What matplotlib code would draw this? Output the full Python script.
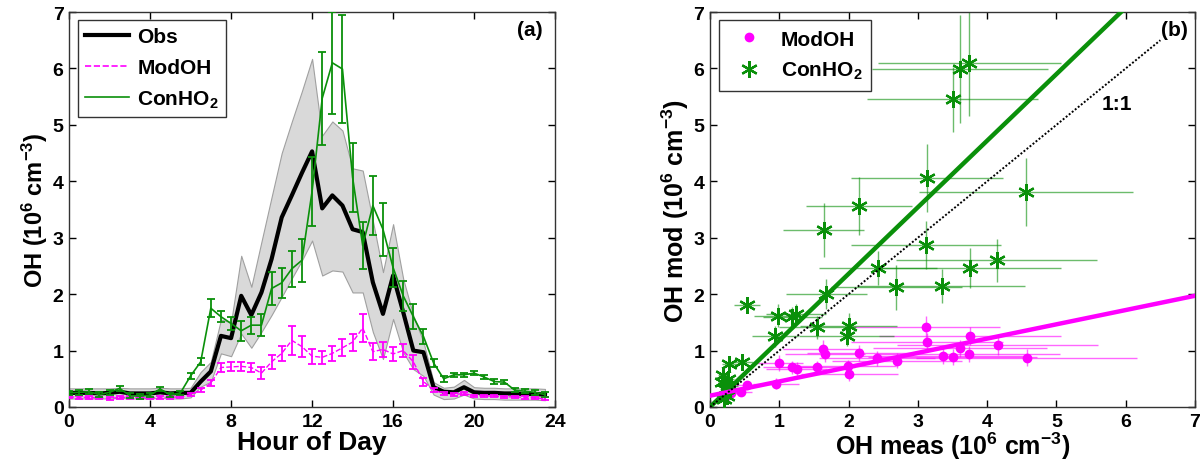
import numpy as np
import matplotlib
matplotlib.use('Agg')
import matplotlib.pyplot as plt
from matplotlib.lines import Line2D

plt.rcParams['font.family'] = ['Liberation Sans', 'DejaVu Sans']
plt.rcParams['font.weight'] = 'bold'
plt.rcParams['mathtext.fontset'] = 'custom'
plt.rcParams['mathtext.rm'] = 'Liberation Sans:bold'
plt.rcParams['mathtext.it'] = 'Liberation Sans:bold'
plt.rcParams['mathtext.bf'] = 'Liberation Sans:bold'

GREEN = '#0a900a'
MAGENTA = '#ff00ff'

# (a) diurnal profiles, half-hour bins
hours = [0.0, 0.5, 1.0, 1.5, 2.0, 2.5, 3.0, 3.5, 4.0, 4.5, 5.0, 5.5,
         6.0, 6.5, 7.0, 7.5, 8.0, 8.5, 9.0, 9.5, 10.0, 10.5, 11.0, 11.5,
         12.0, 12.5, 13.0, 13.5, 14.0, 14.5, 15.0, 15.5, 16.0, 16.5, 17.0, 17.5,
         18.0, 18.5, 19.0, 19.5, 20.0, 20.5, 21.0, 21.5, 22.0, 22.5, 23.0, 23.5]

obs = [0.25, 0.25, 0.25, 0.24, 0.25, 0.27, 0.24, 0.24, 0.24, 0.26, 0.24, 0.25,
       0.25, 0.45, 0.63, 1.26, 1.22, 1.97, 1.63, 2.03, 2.62, 3.36, 3.75, 4.15,
       4.53, 3.52, 3.75, 3.57, 3.15, 3.10, 2.21, 1.65, 2.33, 1.68, 1.00, 0.97,
       0.35, 0.27, 0.26, 0.35, 0.26, 0.25, 0.25, 0.24, 0.24, 0.23, 0.23, 0.22]

obs_hi = [0.33, 0.33, 0.33, 0.33, 0.33, 0.34, 0.33, 0.33, 0.33, 0.34, 0.33, 0.33,
          0.34, 0.62, 0.80, 1.55, 1.50, 2.68, 2.13, 2.93, 3.72, 4.50, 5.06, 5.60,
          6.17, 4.81, 5.06, 4.90, 4.23, 4.19, 3.30, 2.39, 3.24, 2.27, 1.62, 1.15,
          0.44, 0.34, 0.36, 0.48, 0.35, 0.34, 0.34, 0.33, 0.33, 0.33, 0.33, 0.32]

obs_lo = [0.15, 0.15, 0.15, 0.15, 0.15, 0.16, 0.15, 0.15, 0.15, 0.16, 0.15, 0.15,
          0.17, 0.36, 0.45, 0.95, 0.90, 1.30, 1.05, 1.33, 1.63, 1.95, 2.28, 2.60,
          2.95, 2.33, 2.42, 2.40, 2.03, 2.03, 1.33, 0.85, 1.56, 0.97, 0.67, 0.55,
          0.22, 0.14, 0.15, 0.22, 0.15, 0.14, 0.14, 0.13, 0.13, 0.13, 0.13, 0.12]

mod_oh = [0.18, 0.17, 0.17, 0.16, 0.15, 0.17, 0.17, 0.16, 0.16, 0.17, 0.17, 0.18,
          0.22, 0.30, 0.42, 0.70, 0.71, 0.72, 0.70, 0.60, 0.80, 0.95, 1.18, 1.07,
          0.90, 0.88, 0.95, 1.05, 1.15, 1.40, 0.98, 1.02, 0.94, 1.00, 0.80, 0.45,
          0.30, 0.24, 0.22, 0.24, 0.20, 0.20, 0.19, 0.18, 0.18, 0.17, 0.16, 0.15]

mod_oh_err = [0.02, 0.02, 0.02, 0.02, 0.02, 0.02, 0.02, 0.02, 0.02, 0.02, 0.02, 0.02,
              0.03, 0.04, 0.05, 0.08, 0.08, 0.08, 0.08, 0.10, 0.13, 0.13, 0.25, 0.18,
              0.13, 0.12, 0.13, 0.15, 0.15, 0.25, 0.15, 0.13, 0.12, 0.12, 0.12, 0.07,
              0.03, 0.02, 0.02, 0.02, 0.02, 0.02, 0.02, 0.02, 0.02, 0.02, 0.02, 0.02]

con_ho2 = [0.25, 0.26, 0.27, 0.22, 0.26, 0.33, 0.20, 0.19, 0.21, 0.32, 0.21, 0.25,
           0.55, 0.80, 1.75, 1.60, 1.48, 1.35, 1.45, 1.45, 2.10, 2.20, 2.45, 2.60,
           3.82, 5.47, 6.10, 5.99, 4.07, 2.86, 3.57, 3.15, 2.47, 1.97, 1.60, 1.25,
           0.78, 0.50, 0.57, 0.57, 0.60, 0.53, 0.45, 0.44, 0.30, 0.28, 0.26, 0.22]

con_ho2_err = [0.04, 0.04, 0.04, 0.04, 0.04, 0.04, 0.04, 0.04, 0.04, 0.04, 0.04, 0.04,
               0.05, 0.06, 0.16, 0.10, 0.12, 0.18, 0.15, 0.20, 0.30, 0.27, 0.32, 0.38,
               0.61, 0.82, 0.90, 0.95, 0.61, 0.41, 0.53, 0.47, 0.35, 0.27, 0.22, 0.13,
               0.07, 0.05, 0.04, 0.04, 0.04, 0.04, 0.04, 0.04, 0.04, 0.04, 0.04, 0.04]

# (b) modelled vs measured OH
con_x = [0.19, 0.26, 0.17, 0.30, 0.22, 0.24, 0.20, 0.27, 0.46, 0.53, 0.98, 1.19,
         1.24, 0.94, 1.55, 1.68, 2.00, 1.97, 1.64, 2.15, 3.13, 2.42, 3.12, 2.69,
         3.35, 3.61, 3.74, 3.50, 4.56, 4.14, 3.75]
con_y = [0.56, 0.50, 0.44, 0.38, 0.32, 0.20, 0.14, 0.76, 0.79, 1.81, 1.62, 1.59,
         1.65, 1.25, 1.41, 2.00, 1.44, 1.26, 3.14, 3.56, 4.06, 2.47, 2.87, 2.12,
         2.14, 5.99, 6.10, 5.45, 3.81, 2.60, 2.46]
con_xerr = [0.07, 0.09, 0.06, 0.10, 0.08, 0.08, 0.07, 0.10, 0.16, 0.19, 0.34, 0.42,
            0.43, 0.33, 0.55, 0.59, 0.70, 0.69, 0.58, 0.76, 1.10, 0.85, 1.08, 0.94,
            1.20, 1.27, 1.32, 1.23, 1.55, 1.45, 1.32]
con_yerr = [0.08, 0.08, 0.08, 0.08, 0.08, 0.08, 0.08, 0.10, 0.10, 0.10, 0.20, 0.18,
            0.18, 0.18, 0.20, 0.27, 0.22, 0.18, 0.48, 0.52, 0.60, 0.30, 0.42, 0.40,
            0.30, 0.96, 0.95, 0.58, 0.60, 0.38, 0.35]

mod_x = [0.20, 0.25, 0.30, 0.22, 0.45, 0.54, 0.95, 0.99, 1.19, 1.25, 1.55, 1.63,
         1.66, 1.99, 2.01, 2.15, 2.41, 2.70, 3.12, 3.13, 3.36, 3.50, 3.61, 3.74,
         3.75, 4.15, 4.57]
mod_y = [0.22, 0.28, 0.25, 0.18, 0.27, 0.39, 0.41, 0.78, 0.70, 0.67, 0.70, 1.02,
         0.94, 0.72, 0.58, 0.96, 0.86, 0.82, 1.42, 1.15, 0.90, 0.88, 1.04, 0.94,
         1.25, 1.09, 0.87]
mod_xerr = [0.07, 0.09, 0.10, 0.08, 0.16, 0.19, 0.33, 0.35, 0.42, 0.44, 0.54, 0.57,
            0.58, 0.70, 0.70, 0.75, 0.84, 0.94, 1.06, 1.10, 1.18, 1.22, 1.26, 1.31,
            1.31, 1.45, 1.60]
mod_yerr = [0.04, 0.04, 0.04, 0.04, 0.06, 0.07, 0.10, 0.15, 0.12, 0.12, 0.12, 0.16,
            0.14, 0.12, 0.12, 0.14, 0.13, 0.13, 0.20, 0.16, 0.14, 0.14, 0.15, 0.14,
            0.16, 0.16, 0.15]

# linear fits (slope, intercept)
fit_con = (1.18, 0.0)
fit_mod = (0.253, 0.2)

fig = plt.figure(figsize=(12.01, 4.77), dpi=100)
ax1 = fig.add_axes([0.0575, 0.1447, 0.4047, 0.828])
ax2 = fig.add_axes([0.5912, 0.1447, 0.4038, 0.828])

# ---- panel (a)
ax1.fill_between(hours, obs_lo, obs_hi, facecolor='#d9d9d9', edgecolor='#a0a0a0',
                 linewidth=0.8, zorder=1)
ax1.plot(hours, obs, color='black', linewidth=3.0, zorder=3)
ax1.errorbar(hours, mod_oh, yerr=mod_oh_err, color=MAGENTA, linestyle='--',
             linewidth=1.0, elinewidth=1.3, capsize=3, capthick=1.3, zorder=4)
ax1.errorbar(hours, con_ho2, yerr=con_ho2_err, color=GREEN, linestyle='-',
             linewidth=1.2, elinewidth=1.3, capsize=3, capthick=1.3, zorder=5)

ax1.set_xlim(0, 24)
ax1.set_ylim(0, 7)
ax1.set_xticks([0, 4, 8, 12, 16, 20, 24])
ax1.set_yticks(range(8))
ax1.set_xlabel('Hour of Day', fontsize=19, fontweight='bold', labelpad=0)
ax1.set_ylabel('OH (10$^6$ cm$^{-3}$)', fontsize=17, fontweight='bold', labelpad=2)
ax1.text(0.975, 0.955, '(a)', transform=ax1.transAxes, ha='right', va='center',
         fontsize=15, fontweight='bold')

handles_a = [Line2D([], [], color='black', linewidth=3.0),
             Line2D([], [], color=MAGENTA, linewidth=1.2, linestyle='--'),
             Line2D([], [], color=GREEN, linewidth=1.2)]
ax1.legend(handles_a, ['Obs', 'ModOH', 'ConHO$_2$'], loc='upper left',
           bbox_to_anchor=(0.01, 0.99), fontsize=15, frameon=True, fancybox=False,
           edgecolor='black', handlelength=2.1, borderpad=0.35, labelspacing=0.55,
           handletextpad=0.4, borderaxespad=0.2).get_frame().set_linewidth(1.0)

# ---- panel (b)
xs = np.array([0, 7])
ax2.errorbar(mod_x, mod_y, xerr=mod_xerr, yerr=mod_yerr, fmt='none',
             ecolor=MAGENTA, elinewidth=1.0, alpha=0.6, capsize=0, zorder=2)
ax2.errorbar(con_x, con_y, xerr=con_xerr, yerr=con_yerr, fmt='none',
             ecolor=GREEN, elinewidth=1.0, alpha=0.6, capsize=0, zorder=2)
ax2.plot(mod_x, mod_y, 'o', color=MAGENTA, markersize=6, zorder=3)
ax2.plot(con_x, con_y, linestyle='none', marker=(6, 2, 0), color=GREEN,
         markersize=12, markeredgewidth=1.6, zorder=3)
ax2.plot(xs, fit_con[0] * xs + fit_con[1], color=GREEN, linewidth=3.2, zorder=4)
ax2.plot(xs, fit_mod[0] * xs + fit_mod[1], color=MAGENTA, linewidth=3.2, zorder=4)
ax2.plot([0, 6.5], [0, 6.5], color='black', linestyle=(0, (1, 1)), linewidth=1.4,
         zorder=4)
ax2.text(5.87, 5.37, '1:1', ha='center', va='center', fontsize=15, fontweight='bold')
ax2.text(0.985, 0.955, '(b)', transform=ax2.transAxes, ha='right', va='center',
         fontsize=15, fontweight='bold')

ax2.set_xlim(0, 7)
ax2.set_ylim(0, 7)
ax2.set_xticks(range(8))
ax2.set_yticks(range(8))
ax2.set_xlabel('OH meas (10$^6$ cm$^{-3}$)', fontsize=18, fontweight='bold', labelpad=0)
ax2.set_ylabel('OH mod (10$^6$ cm$^{-3}$)', fontsize=18, fontweight='bold', labelpad=2)

handles_b = [Line2D([], [], linestyle='none', marker='o', color=MAGENTA, markersize=6),
             Line2D([], [], linestyle='none', marker=(6, 2, 0), color=GREEN,
                    markersize=12, markeredgewidth=1.6)]
ax2.legend(handles_b, ['ModOH', 'ConHO$_2$'], loc='upper left',
           bbox_to_anchor=(0.01, 0.99), fontsize=15, frameon=True, fancybox=False,
           edgecolor='black', handlelength=2.0, borderpad=0.45, labelspacing=0.55,
           handletextpad=0.5, borderaxespad=0.2).get_frame().set_linewidth(1.0)

for ax in (ax1, ax2):
    ax.tick_params(direction='in', top=True, right=True, length=5, width=1,
                   labelsize=14, pad=4)
    for lab in ax.get_xticklabels() + ax.get_yticklabels():
        lab.set_fontweight('bold')
    for sp in ax.spines.values():
        sp.set_linewidth(1.0)
        sp.set_color('#333333')

fig.savefig('out.png', dpi=100)
